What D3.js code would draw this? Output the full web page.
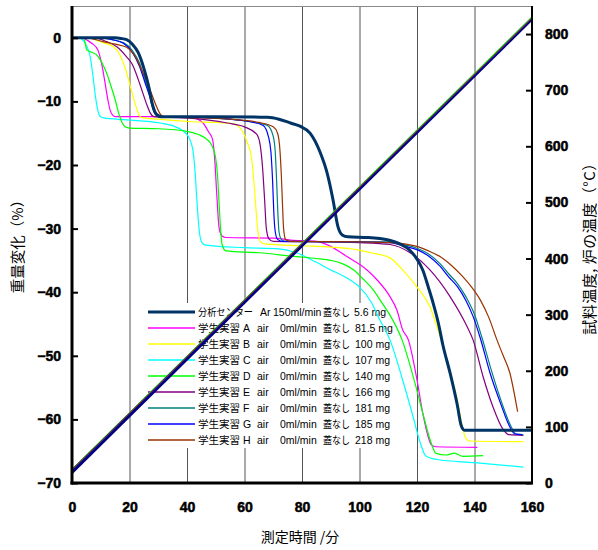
<!DOCTYPE html>
<html><head><meta charset="utf-8">
<script src="https://cdn.jsdelivr.net/npm/d3@7/dist/d3.min.js"></script>
<style>
body{margin:0;background:#fff;}
svg{display:block;}
</style></head>
<body>
<svg id="chart" width="598" height="550"></svg>
<script>
// ---------- data ----------
const xTicks = [0,20,40,60,80,100,120,140,160];
const yTicks = [0,-10,-20,-30,-40,-50,-60,-70];
const yRTicks = [0,100,200,300,400,500,600,700,800];

const seriesColors = ["#003366","#FF00FF","#FFFF00","#00FFFF","#00FF00","#800080","#008080","#0000FF","#993300"];
const legendRows = [
  ["分析センター","Ar","150ml/min","蓋なし","5.6 mg"],
  ["学生実習 A","air","0ml/min","蓋なし","81.5 mg"],
  ["学生実習 B","air","0ml/min","蓋なし","100 mg"],
  ["学生実習 C","air","0ml/min","蓋なし","107 mg"],
  ["学生実習 D","air","0ml/min","蓋なし","140 mg"],
  ["学生実習 E","air","0ml/min","蓋なし","166 mg"],
  ["学生実習 F","air","0ml/min","蓋なし","181 mg"],
  ["学生実習 G","air","0ml/min","蓋なし","185 mg"],
  ["学生実習 H","air","0ml/min","蓋なし","218 mg"]
];

// mass change (%) vs time (min)
const massCenter = [[0,0],[15,0],[17,-0.1],[19,-0.3],[21,-1.0],[23,-2.3],[25,-4.8],[26.6,-7.5],[28,-10.5],[29.3,-12],[31,-12.4],[50,-12.4],[68,-12.5],[72,-12.8],[76,-13.4],[79.3,-13.9],[82.8,-15],[86.3,-18],[88.7,-21.2],[90.8,-25.5],[92.5,-29.7],[94,-31],[96,-31.3],[103,-31.4],[110,-31.8],[114,-32.4],[117.5,-33.4],[120,-34.8],[122,-36.5],[124,-39.3],[125.6,-41.7],[127.5,-45],[129,-48.3],[131.5,-52.7],[134,-57.7],[135.4,-61],[136.5,-61.7],[160,-61.7]];
const massA = [[0,0],[4,0],[5,-0.3],[7,-0.9],[9,-1.9],[10.5,-4.5],[11.5,-7.1],[12.5,-9.8],[13.2,-11.3],[14.2,-12.2],[15,-12.4],[30,-12.4],[42,-12.6],[45.6,-13.4],[47.5,-14.8],[48.9,-16],[49.7,-19.5],[50.4,-25],[51.2,-30],[52.3,-31.2],[53.5,-31.4],[70,-31.5],[76,-31.8],[85,-32],[90,-32.8],[95.6,-34.4],[102.6,-36.5],[106,-38],[110.6,-40.7],[113,-42.8],[115,-45.9],[117,-47.5],[120,-53.8],[122,-59],[125,-64],[126.5,-64.3],[141,-64.4]];
const massB = [[0,0],[6,0],[8,-0.3],[11,-0.8],[14.4,-1.4],[16.7,-2.7],[19,-5.5],[20.5,-8],[22,-10.4],[23,-11.8],[24,-12.5],[30,-12.8],[42,-13.2],[50,-13.3],[56,-13.5],[59,-14.5],[61,-16.5],[62.5,-19],[63.3,-22.8],[64,-27],[64.7,-30.5],[65.5,-32],[67,-32.4],[80,-32.7],[90,-32.9],[99,-33.3],[104,-33.8],[110.6,-34.6],[115,-36.5],[120,-39.2],[124.5,-42.3],[127,-45.5],[129,-48.3],[131.5,-52.5],[134,-57],[135.5,-60.5],[137,-63],[138.3,-63.4],[157,-63.5]];
const massC = [[0,0],[2.5,0],[3.4,-0.2],[5,-1.2],[6.3,-2.9],[7.3,-6],[8,-8.7],[9,-11.4],[9.7,-12.3],[11,-12.6],[19,-12.9],[30.6,-13.4],[36,-14],[40,-15.2],[42,-17.5],[42.8,-21],[43.5,-26],[44.3,-30.5],[45.2,-32.2],[46.5,-32.6],[60,-33],[72,-33.2],[78,-33.8],[85,-35.3],[90,-36.5],[95,-37.6],[100,-39.2],[104,-41.5],[107,-44.3],[110.6,-47.5],[115,-53.8],[118.6,-59.5],[121,-63.5],[123,-65.7],[127,-66.3],[140,-66.8],[157,-67.5]];
const massD = [[0,0],[4,0],[4.6,-0.8],[5.1,-1.9],[7,-2.3],[8.6,-2.7],[10.5,-4],[12,-5.5],[13.5,-7.5],[15,-9.7],[16.2,-11.8],[17.3,-13.2],[18.5,-14],[20,-14.2],[30,-14.3],[40,-14.7],[44,-15.2],[47,-16],[48.5,-16.8],[49.9,-18.7],[50.6,-21.5],[51.1,-25.5],[51.6,-29.5],[52.2,-32.5],[53.5,-33.5],[65,-33.8],[78,-34.4],[85,-34.7],[90,-35],[94,-35.5],[98,-36.5],[101,-37.8],[104.7,-39.6],[108,-41.8],[110.6,-43.6],[114.8,-47.5],[119.3,-54.3],[122,-59],[125,-63.8],[126.5,-65.3],[130,-65.6],[133,-65.3],[136,-65.8],[143,-65.7]];
const massE = [[0,0],[8,0],[12,-0.6],[15.6,-1.4],[19,-3.0],[21,-4.2],[23,-6.5],[24.5,-8.5],[26,-10.5],[27.2,-11.8],[28.5,-12.4],[40,-12.6],[54,-13.4],[60,-14],[64.3,-15.2],[65.5,-17],[66.3,-20.5],[67,-25.5],[67.6,-30],[68.5,-31.6],[70,-32],[90,-32.1],[100,-32.2],[110.6,-32.5],[117.6,-33.8],[124.5,-36.5],[131.5,-40.7],[137.4,-45.4],[139.5,-47.5],[143,-53.3],[146.4,-58],[150,-61.6],[152,-62.4],[157,-62.5]];
const massF = [[0,0],[10,0],[14,-0.3],[18,-0.8],[21,-2],[23.5,-4],[25.5,-6.8],[27.3,-9.2],[28.7,-11.4],[29.8,-12.2],[31.5,-12.4],[45,-12.5],[55,-12.8],[62,-13.2],[68,-13.8],[70,-15.5],[70.7,-18],[71.2,-22.8],[71.6,-27.5],[72,-30.5],[72.8,-31.7],[74,-32],[100,-32.1],[110.6,-32.1],[115,-32.5],[120,-33.1],[124,-34],[128,-35.5],[131,-37.1],[134,-38.6],[137,-40.7],[140,-43.5],[142.5,-47],[146,-52.5],[149.5,-57.4],[152.8,-61.2],[154.5,-62.3],[157,-62.4]];
const massG = [[0,0],[10,0],[14,-0.3],[18,-0.9],[21,-2.3],[23.5,-4.5],[25.5,-7.2],[27,-9.2],[28.3,-11.4],[29.4,-12.2],[31,-12.4],[45,-12.5],[55,-12.8],[62,-13.2],[66.5,-13.8],[68.3,-15.5],[69.2,-18],[69.8,-22.8],[70.2,-27.5],[70.7,-30.5],[71.5,-31.7],[73,-32],[100,-32.1],[110.6,-32.2],[115,-32.7],[120,-33.3],[124,-34.3],[128,-35.9],[131,-37.6],[134,-39.1],[137,-41.3],[139.5,-43.8],[142,-47.2],[145.4,-52.7],[149,-57.4],[152.3,-61.2],[154,-62.3],[156.5,-62.4]];
const massH = [[0,0],[5,0],[10.8,-0.6],[15,-1.0],[19,-1.5],[21.5,-2.6],[24.7,-5.5],[27,-8],[29.4,-10.8],[30.7,-12],[32,-12.4],[45,-12.6],[55,-12.8],[65,-13.3],[70,-14],[71.5,-15],[72.3,-17.5],[72.8,-21.5],[73.2,-26],[73.6,-30],[74.3,-31.7],[76,-32],[100,-32.1],[110.6,-32.2],[120,-32.8],[124,-33.5],[128,-34.4],[132,-35.8],[136,-37.6],[139,-39.2],[142,-41.2],[145,-44],[147.8,-47.5],[150,-50],[152.3,-52.7],[155,-58.8]];
const massSeries = [massCenter,massA,massB,massC,massD,massE,massF,massG,massH];

// temperature (°C) vs time (min)
const tempCenter = [[0,19],[160,827]];
const tempA = [[0,24],[160,829]];
const tempB = [[0,24],[160,829]];
const tempC = [[0,24],[160,829]];
const tempD = [[0,25],[160,831]];
const tempE = [[0,24],[160,829]];
const tempF = [[0,24],[160,829]];
const tempG = [[0,23],[160,828]];
const tempH = [[0,23.5],[160,828.5]];
const tempStudents = [tempA,tempB,tempC,tempD,tempE,tempF,tempG,tempH];

// ---------- layout ----------
const L = 72, R = 532, T = 6, B = 483;
const svg = d3.select("#chart");
const x = d3.scaleLinear().domain([0,160]).range([L,R]);
const y = d3.scaleLinear().domain([-70,5]).range([B,T]);
const yR = d3.scaleLinear().domain([0,850]).range([B,T]);

svg.append("defs").append("clipPath").attr("id","plot")
  .append("rect").attr("x",L).attr("y",T).attr("width",R-L).attr("height",B-T);

// grid
svg.append("g").selectAll("line").data(xTicks.filter(d=>d>0&&d<160)).join("line")
  .attr("x1",d=>x(d)+0.5).attr("x2",d=>x(d)+0.5).attr("y1",T).attr("y2",B)
  .attr("stroke","#555").attr("stroke-width",1);
svg.append("line").attr("x1",L).attr("x2",R).attr("y1",T+0.5).attr("y2",T+0.5)
  .attr("stroke","#888").attr("stroke-width",1);

// legend
const lg = svg.append("g");
lg.append("rect").attr("x",142).attr("y",303).attr("width",256).attr("height",145).attr("fill","#fff");
const rowY = i => 312 + i*16;
const colsCenter = [198,260,273,323,354];
const colsStudent = [198,257,280,323,355];
// fitted widths for the proportional Japanese segments (null = natural)
const fitCenter = [55,null,null,27,null];
const fitStudent = [null,null,null,27,null];
legendRows.forEach((row,i)=>{
  lg.append("line").attr("x1",148).attr("x2",195).attr("y1",rowY(i)).attr("y2",rowY(i))
    .attr("stroke",seriesColors[i]).attr("stroke-width",i===0?3:1.3);
  const cols = i===0?colsCenter:colsStudent;
  const fits = i===0?fitCenter:fitStudent;
  row.forEach((t,j)=>{
    const tx = lg.append("text").attr("x",cols[j]).attr("y",rowY(i)+4)
      .attr("font-family","'Liberation Sans','Noto Sans CJK JP',sans-serif")
      .attr("font-size","10.5px").attr("fill","#000").text(t);
    if (fits[j]) tx.attr("textLength",fits[j]).attr("lengthAdjust","spacingAndGlyphs");
  });
});

// mass curves
const gp = svg.append("g").attr("clip-path","url(#plot)");
const line = d3.line().x(d=>x(d[0])).y(d=>y(d[1])).curve(d3.curveMonotoneX);
const lineT = d3.line().x(d=>x(d[0])).y(d=>yR(d[1]));
const order = [1,2,3,4,5,6,7,8,0];
order.forEach(i=>{
  gp.append("path").attr("d",line(massSeries[i])).attr("fill","none")
    .attr("stroke",seriesColors[i]).attr("stroke-width",i===0?3:1.2)
    .attr("stroke-linejoin","round");
});
// temperature lines
gp.append("path").attr("d",lineT(tempCenter)).attr("fill","none").attr("stroke","#000080").attr("stroke-width",3);
tempStudents.forEach((t,i)=>{
  gp.append("path").attr("d",lineT(t)).attr("fill","none")
    .attr("stroke",seriesColors[i+1]).attr("stroke-width",1);
});

// axes
const tickFont = "'Liberation Sans',Arial,sans-serif";
const ax = svg.append("g").attr("transform",`translate(${L},0)`)
  .call(d3.axisLeft(y).tickValues(yTicks).tickSize(-6).tickPadding(11));
const axR = svg.append("g").attr("transform",`translate(${R},0)`)
  .call(d3.axisRight(yR).tickValues(yRTicks).tickSize(-6).tickPadding(13));
const axB = svg.append("g").attr("transform",`translate(0,${B})`)
  .call(d3.axisBottom(x).tickValues(xTicks).tickSize(0).tickPadding(19));
[ax,axR,axB].forEach(g=>{
  g.attr("font-family",null).attr("font-size",null);
  g.select(".domain").remove();
  g.selectAll("line").attr("stroke","#000").attr("stroke-width",2);
  g.selectAll("text")
    .style("font-family",tickFont).style("font-size","14px")
    .style("font-weight","bold").attr("fill","#000")
    .attr("stroke","#000").attr("stroke-width",0.5);
});
svg.append("line").attr("x1",L).attr("x2",L).attr("y1",T).attr("y2",B+1.5).attr("stroke","#000").attr("stroke-width",3);
svg.append("line").attr("x1",L-1.5).attr("x2",R+1).attr("y1",B).attr("y2",B).attr("stroke","#000").attr("stroke-width",3);
svg.append("line").attr("x1",R).attr("x2",R).attr("y1",T).attr("y2",B).attr("stroke","#000").attr("stroke-width",2);

// titles
const titleFont = "'Noto Sans CJK JP',sans-serif";
svg.append("text").attr("x",300).attr("y",542).attr("text-anchor","middle")
  .attr("font-family",titleFont).attr("font-size","14px").text("測定時間 /分");
svg.append("text").attr("transform","translate(23,243) rotate(-90)").attr("text-anchor","middle")
  .attr("font-family",titleFont).attr("font-size","14.5px").text("重量変化（%）");
svg.append("text").attr("transform","translate(595,245) rotate(-90)").attr("text-anchor","middle")
  .attr("font-family",titleFont).attr("font-size","15px").attr("letter-spacing","0.5px").text("試料温度, 炉の温度（°C）");
</script>
</body></html>
